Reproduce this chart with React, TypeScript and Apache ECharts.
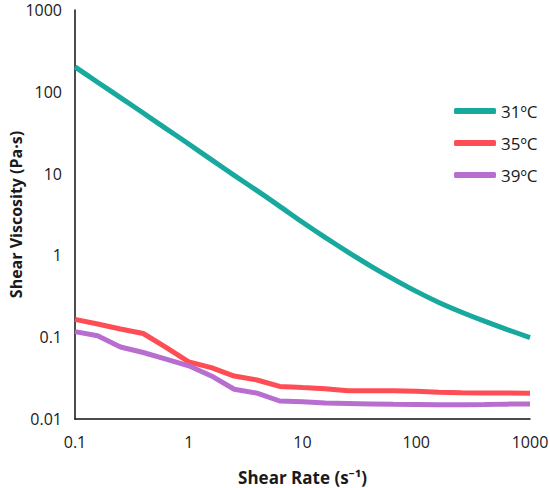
import React, { useEffect, useRef } from "react";
import * as echarts from "echarts";

const shearRates = [
  0.1, 0.158, 0.251, 0.398, 0.631, 1, 1.58, 2.51, 3.98, 6.31, 10, 15.8, 25.1, 39.8, 63.1, 100, 158, 251, 398, 631, 1000,
];
const visc31 = [
  202, 131, 85, 55, 35.5, 23, 14.8, 9.5, 6.2, 3.98, 2.54, 1.66, 1.1, 0.741, 0.513, 0.363, 0.266, 0.202, 0.157, 0.124,
  0.099,
];
const visc35 = [
  0.165, 0.145, 0.126, 0.111, 0.075, 0.05, 0.0425, 0.0335, 0.03, 0.025, 0.0242, 0.0235, 0.0222, 0.0222, 0.0222, 0.0218,
  0.0213, 0.021, 0.0208, 0.0208, 0.0207,
];
const visc39 = [
  0.117, 0.104, 0.076, 0.065, 0.054, 0.0447, 0.0336, 0.0231, 0.0207, 0.0166, 0.0162, 0.0157, 0.0155, 0.0153, 0.0151,
  0.015, 0.0149, 0.0149, 0.015, 0.0152, 0.0153,
];
const seriesNames = ["31ºC", "35ºC", "39ºC"];
const seriesColors = ["#17A89E", "#FF4D55", "#B86ECF"];

const FONT = "'Open Sans', 'Noto Sans', 'DejaVu Sans', sans-serif";

function fmt(v: number): string {
  return String(parseFloat(Number(v).toPrecision(6)));
}

export default function App() {
  const ref = useRef<HTMLDivElement>(null);
  useEffect(() => {
    if (!ref.current) return;
    const chart = echarts.init(ref.current, undefined, { renderer: "svg" });
    const all = [visc31, visc35, visc39];
    chart.setOption({
      animation: false,
      backgroundColor: "#ffffff",
      grid: { left: 75, right: 20, top: 10, bottom: 69, containLabel: false, outerBoundsMode: "none" },
      legend: {
        orient: "vertical",
        left: 449,
        top: 96,
        itemWidth: 42,
        itemHeight: 6,
        itemGap: 12,
        icon: "roundRect",
        textStyle: { fontFamily: FONT, fontSize: 17, color: "#1a1a1a", lineHeight: 20 },
        data: seriesNames,
      },
      xAxis: {
        type: "log",
        logBase: 10,
        min: 0.1,
        max: 1000,
        name: "Shear Rate (s⁻¹)",
        nameLocation: "middle",
        nameGap: 50,
        nameMoveOverlap: false,
        nameTextStyle: { fontFamily: FONT, fontSize: 17, fontWeight: "bold", color: "#1a1a1a" },
        axisLine: { show: true, lineStyle: { color: "#111", width: 1.5 } },
        axisTick: { show: false },
        splitLine: { show: false },
        minorTick: { show: false },
        axisLabel: { fontFamily: FONT, fontSize: 16, color: "#1a1a1a", margin: 15, formatter: (v: number) => fmt(v) },
      },
      yAxis: {
        type: "log",
        logBase: 10,
        min: 0.01,
        max: 1000,
        name: "Shear Viscosity (Pa·s)",
        nameLocation: "middle",
        nameGap: 50,
        nameMoveOverlap: false,
        nameRotate: 90,
        nameTextStyle: { fontFamily: FONT, fontSize: 16, fontWeight: "bold", color: "#1a1a1a", lineHeight: 18 },
        axisLine: { show: true, lineStyle: { color: "#111", width: 1.5 } },
        axisTick: { show: false },
        splitLine: { show: false },
        axisLabel: { fontFamily: FONT, fontSize: 16, color: "#1a1a1a", margin: 13, formatter: (v: number) => fmt(v) },
      },
      series: seriesNames.map((name, i) => ({
        name,
        type: "line",
        showSymbol: false,
        symbol: "none",
        smooth: i === 0 ? 0.25 : false,
        color: seriesColors[i],
        lineStyle: { color: seriesColors[i], width: 5 },
        data: shearRates.map((s, j) => [s, all[i][j]]),
      })),
    });
    return () => chart.dispose();
  }, []);
  return <div ref={ref} style={{ position: "fixed", left: 0, top: 0, width: 550, height: 488 }} />;
}
